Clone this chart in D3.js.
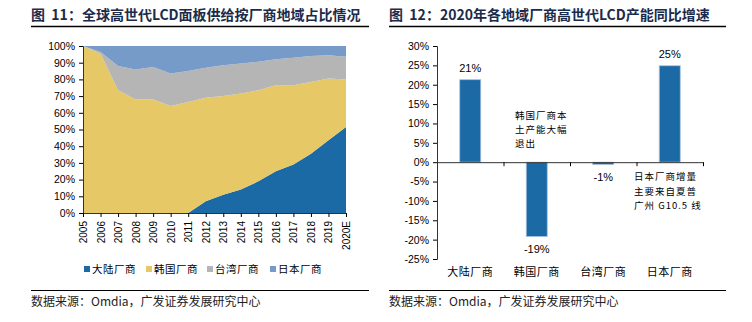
<!DOCTYPE html>
<html>
<head>
<meta charset="utf-8">
<script src="https://cdn.jsdelivr.net/npm/d3@7"></script>
<style>
  body { margin: 0; background: #fff; }
  svg text { font-family: "Liberation Sans", Arial, "Noto Sans CJK SC", sans-serif; white-space: pre; }
  .cn { font-family: "Noto Sans CJK SC", sans-serif; }
</style>
</head>
<body>
<svg width="752" height="322"></svg>
<script>
// Left chart data: share of supply by region (%)
var years = ["2005", "2006", "2007", "2008", "2009", "2010", "2011", "2012", "2013", "2014", "2015", "2016", "2017", "2018", "2019", "2020E"];
var mainland = [0, 0, 0, 0, 0, 0, 0, 7, 11, 14, 19, 25, 29, 35.5, 43.5, 51.5];
var korea = [100, 95.4, 73.5, 68, 68, 64, 66.5, 62, 59, 57.5, 54.5, 51.5, 47.5, 43, 37, 28.5];
var taiwan = [0, 1, 14.5, 18, 19.5, 19.5, 18.5, 18, 18.5, 18, 17, 15.5, 16.5, 15.5, 14, 13.5];
var japan = [0, 3.6, 12, 14, 12.5, 16.5, 15, 13, 11.5, 10.5, 9.5, 8, 7, 6, 5.5, 6.5];
var seriesNames = ["大陆厂商", "韩国厂商", "台湾厂商", "日本厂商"];
var seriesColors = ["#1b6aa5", "#e6c866", "#b5b5b5", "#779bc8"];

// Right chart data: 2020 capacity growth (%)
var regions = ["大陆厂商", "韩国厂商", "台湾厂商", "日本厂商"];
var growth = [21.3, -19.2, -0.6, 24.9];
var noteKorea = ["韩国厂商本", "土产能大幅", "退出"];
var noteJapan = ["日本厂商增量", "主要来自夏普", "广州 G10.5 线"];

var titleLeft = "图  11：全球高世代LCD面板供给按厂商地域占比情况";
var titleRight = "图  12：2020年各地域厂商高世代LCD产能同比增速";
var source = "数据来源：Omdia，广发证券发展研究中心";

var svg = d3.select("svg");
var navy = "#1b2b4b";

// percent with a plain hyphen for negatives
function pct(v) {
    return Math.round(v * 100) + "%";
}

// titles, rules and sources
function header(x, x2, text) {
    svg.append("text").attr("x", x).attr("y", 20)
        .attr("font-size", 14).attr("font-weight", "bold")
        .attr("fill", navy).attr("class", "cn").text(text);
    svg.append("line").attr("x1", x).attr("x2", x2).attr("y1", 26.5).attr("y2", 26.5)
        .attr("stroke", "#000").attr("stroke-width", 1.3);
}
function footer(x, x2) {
    svg.append("line").attr("x1", x).attr("x2", x2).attr("y1", 290.5).attr("y2", 290.5)
        .attr("stroke", "#000").attr("stroke-width", 1.2);
    svg.append("text").attr("x", x).attr("y", 306)
        .attr("font-size", 12).attr("fill", "#222").attr("class", "cn").text(source);
}
header(31, 369, titleLeft);
header(389, 726, titleRight);
footer(31, 369);
footer(389, 726);

// ---------- left: stacked area ----------
var rows = years.map(function(y, i) {
    return { year: y, a: mainland[i] / 100, b: korea[i] / 100, c: taiwan[i] / 100, d: japan[i] / 100 };
});
var keys = ["a", "b", "c", "d"];
var stacked = d3.stack().keys(keys)(rows);

var x1 = d3.scalePoint().domain(years).range([83, 346]);
var y1 = d3.scaleLinear().domain([0, 1]).range([213, 46]);

var area = d3.area()
    .x(function(d) { return x1(d.data.year); })
    .y0(function(d) { return y1(d[0]); })
    .y1(function(d) { return y1(Math.min(d[1], 1)); });

svg.append("g").selectAll("path")
    .data(stacked)
    .enter()
    .append("path")
        .attr("fill", function(d, i) { return seriesColors[i]; })
        .attr("d", area);

var yAxis1 = svg.append("g").attr("transform", "translate(83,0)")
    .call(d3.axisLeft(y1).tickValues(d3.range(0, 1.01, 0.1)).tickFormat(pct).tickSize(4));
yAxis1.selectAll("text").attr("font-size", 10.5).attr("fill", "#000").attr("x", -8);

var xAxis1 = svg.append("g").attr("transform", "translate(0,213)")
    .call(d3.axisBottom(x1).tickSize(4).tickSizeOuter(0));
xAxis1.selectAll("text")
    .attr("font-size", 10).attr("fill", "#000")
    .attr("transform", "rotate(-90)")
    .attr("text-anchor", "end")
    .attr("x", -8).attr("y", 0).attr("dy", "0.35em");
svg.selectAll(".domain").attr("stroke", "#333");

// legend
var legendX = [84, 146, 207, 270];
var legend = svg.append("g").selectAll("g")
    .data(seriesNames)
    .enter()
    .append("g")
        .attr("transform", function(d, i) { return "translate(" + legendX[i] + ",269)"; });
legend.append("rect").attr("x", 0).attr("y", -3).attr("width", 6).attr("height", 6)
    .attr("fill", function(d, i) { return seriesColors[i]; });
legend.append("text").attr("class", "cn").attr("x", 8).attr("dy", "0.35em")
    .attr("font-size", 10.5).attr("fill", "#000").attr("letter-spacing", 0.5)
    .text(function(d) { return d; });

// ---------- right: bar chart ----------
var x2 = d3.scaleBand().domain(regions).range([437, 703]).paddingInner(0.684).paddingOuter(0.342);
var y2 = d3.scaleLinear().domain([-0.25, 0.30]).range([259, 46]);

svg.append("g").selectAll("rect")
    .data(growth)
    .enter()
    .append("rect")
        .attr("x", function(d, i) { return x2(regions[i]); })
        .attr("y", function(d) { return y2(Math.max(0, d / 100)); })
        .attr("width", x2.bandwidth())
        .attr("height", function(d) { return Math.abs(y2(d / 100) - y2(0)); })
        .attr("fill", "#1b6aa5")
        .attr("stroke", "#a9c3e0")
        .attr("stroke-width", 0.8);

var yAxis2 = svg.append("g").attr("transform", "translate(437,0)")
    .call(d3.axisLeft(y2).tickValues(d3.range(-0.25, 0.301, 0.05)).tickFormat(pct).tickSize(4));
yAxis2.selectAll("text").attr("font-size", 10.5).attr("fill", "#000").attr("x", -8);
yAxis2.select(".domain").attr("stroke", "#333");

// zero line with category boundary ticks
var zero = svg.append("g").attr("transform", "translate(0," + y2(0) + ")")
    .call(d3.axisBottom(d3.scaleLinear().domain([0, regions.length]).range([437, 703]))
        .tickValues(d3.range(1, regions.length + 1)).tickSize(4).tickSizeOuter(0).tickFormat(""));
zero.select(".domain").attr("stroke", "#333");

// category labels at bottom
svg.append("g").selectAll("text")
    .data(regions)
    .enter()
    .append("text")
        .attr("class", "cn")
        .attr("x", function(d) { return x2(d) + x2.bandwidth() / 2; })
        .attr("y", 276)
        .attr("text-anchor", "middle")
        .attr("font-size", 11).attr("letter-spacing", 0.5)
        .text(function(d) { return d; });

// value labels
svg.append("g").selectAll("text")
    .data(growth)
    .enter()
    .append("text")
        .attr("x", function(d, i) { return x2(regions[i]) + x2.bandwidth() / 2; })
        .attr("y", function(d) { return d >= 0 ? y2(d / 100) - 8 : y2(d / 100) + 16; })
        .attr("text-anchor", "middle")
        .attr("font-size", 11).attr("fill", "#000")
        .text(function(d) { return pct(d / 100); });

// notes
function note(lines, x, y, gap) {
    svg.append("g").selectAll("text")
        .data(lines)
        .enter()
        .append("text")
            .attr("class", "cn")
            .attr("x", x)
            .attr("y", function(d, i) { return y + i * gap; })
            .attr("dy", "0.35em")
            .attr("font-size", 9.5).attr("letter-spacing", 1)
            .text(function(d) { return d; });
}
note(noteKorea, 515, 116, 14);
note(noteJapan, 634, 177, 14.5);
</script>
</body>
</html>
